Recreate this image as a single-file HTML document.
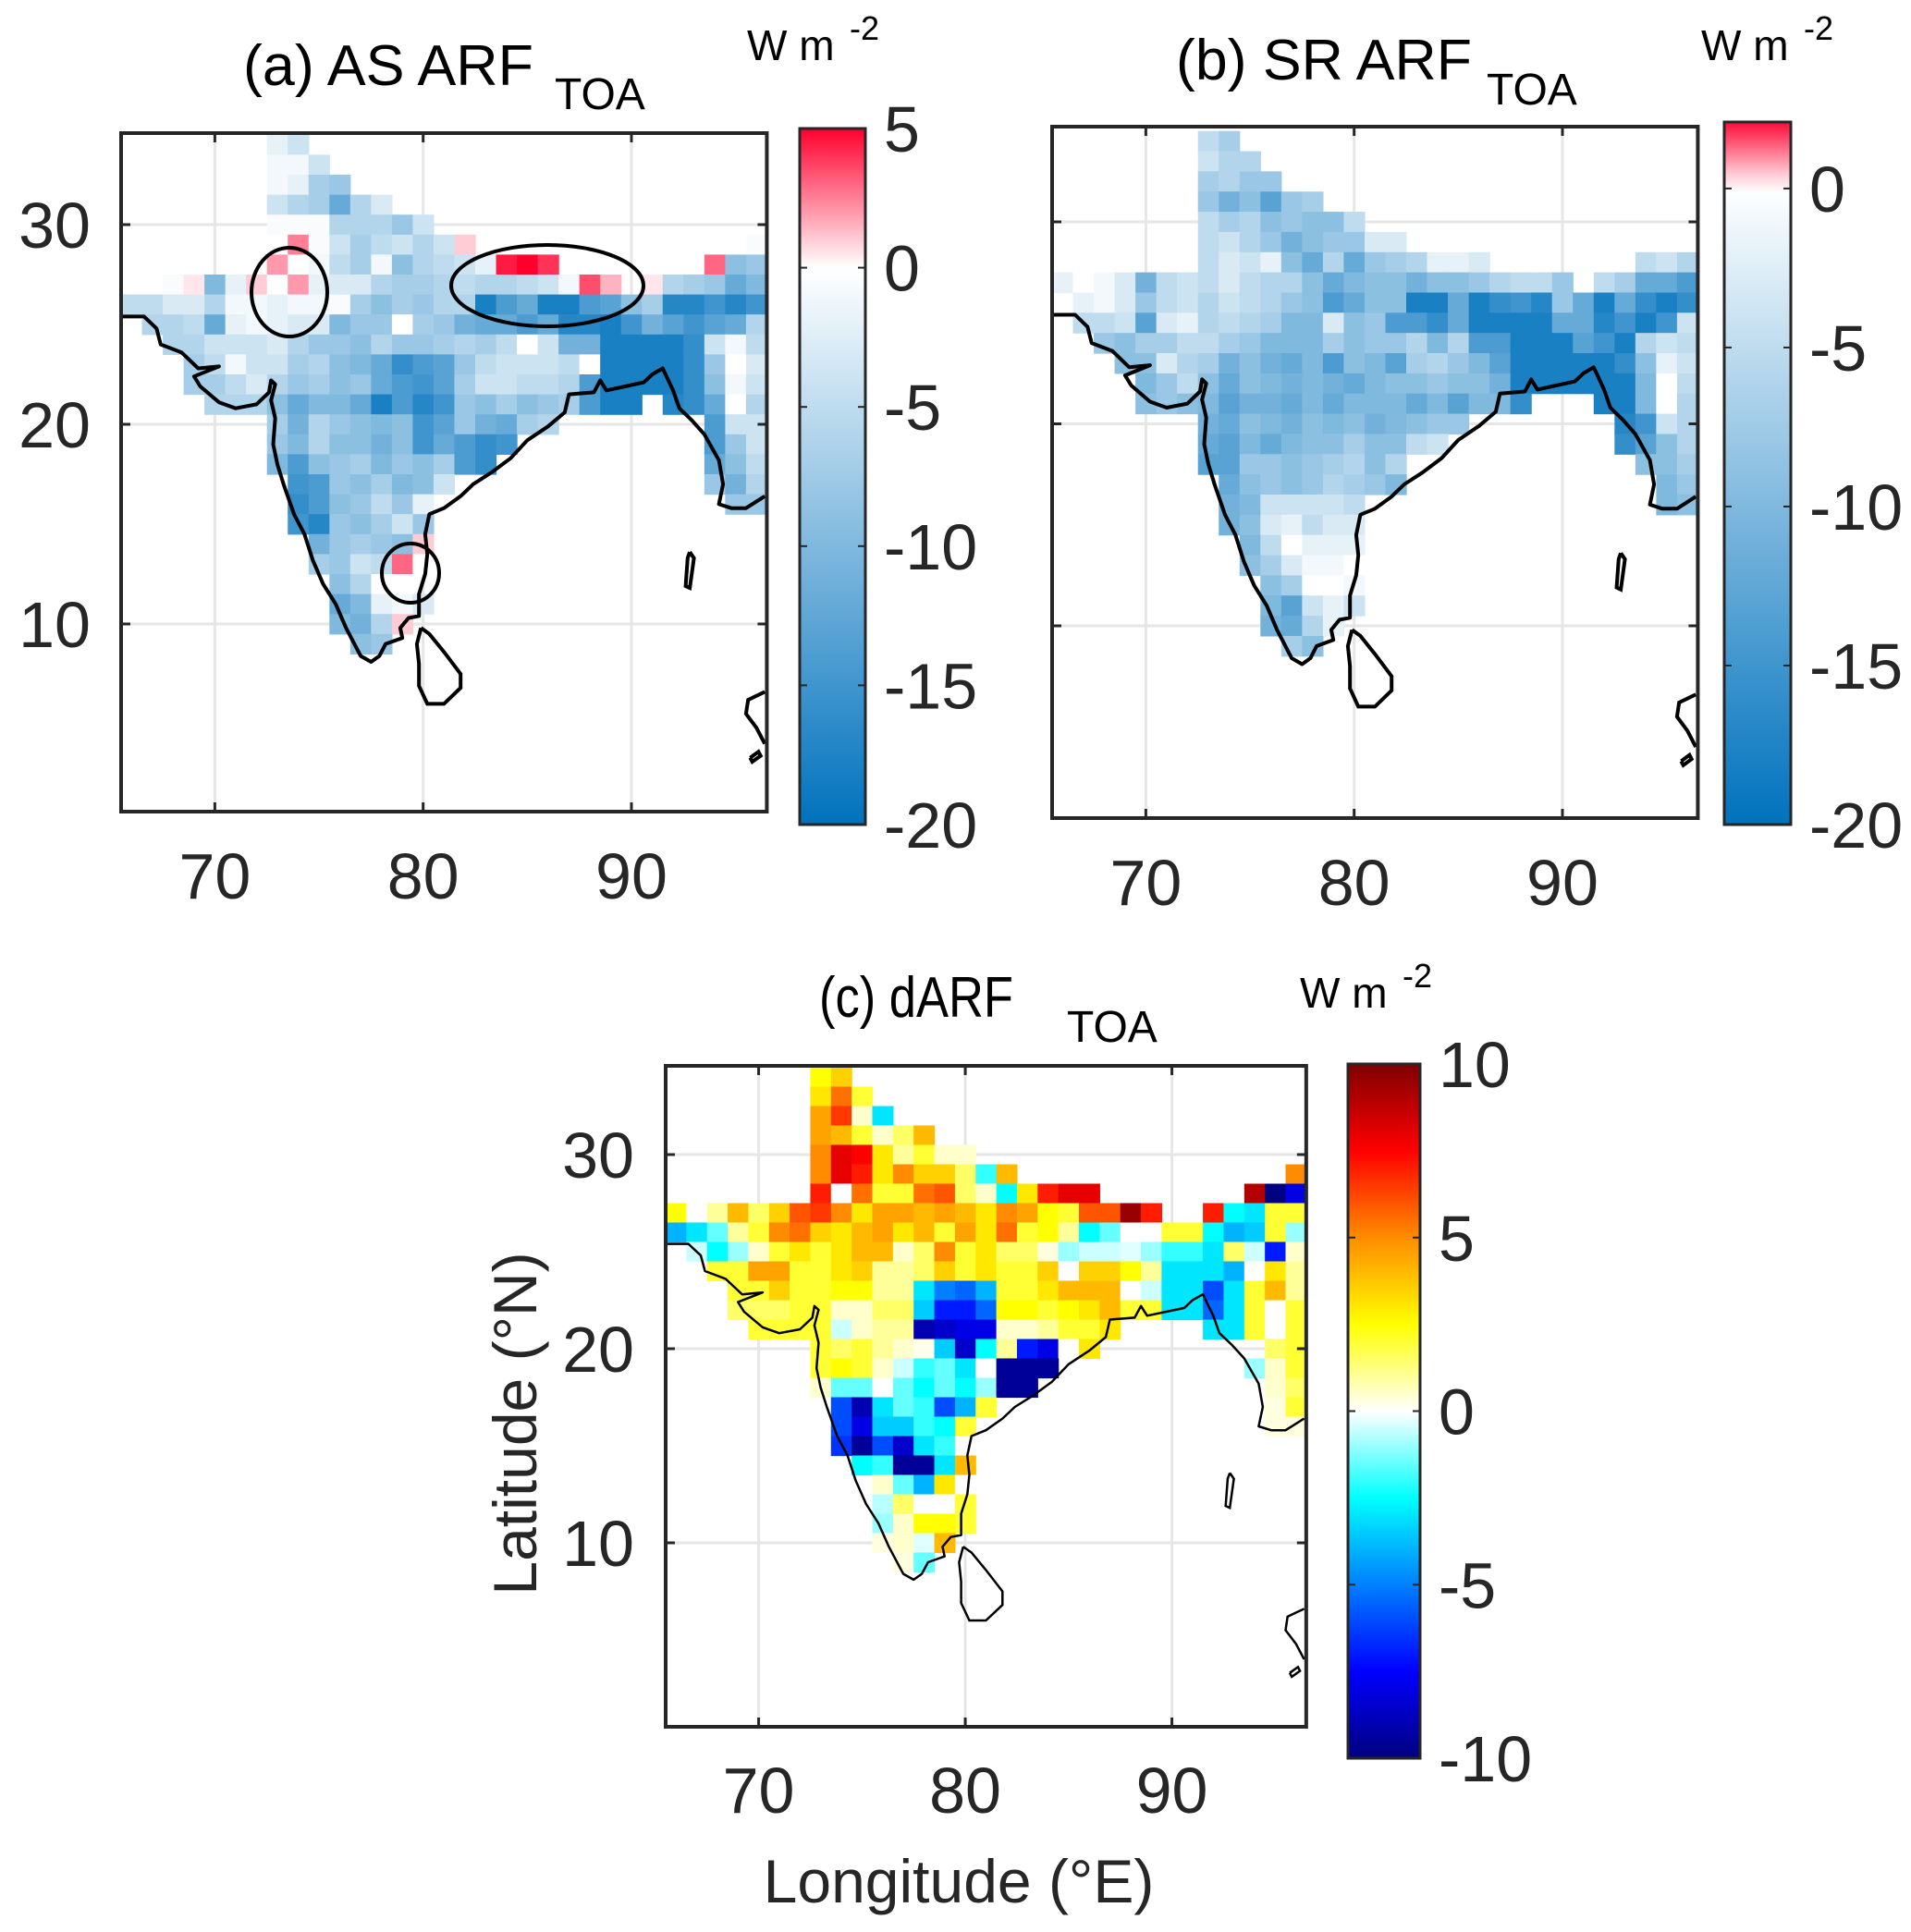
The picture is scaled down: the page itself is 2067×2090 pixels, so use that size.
<!DOCTYPE html>
<html><head><meta charset="utf-8"><style>
html,body{margin:0;padding:0;background:#fff;}
svg{display:block;font-family:"Liberation Sans",Arial,sans-serif;}
</style></head><body>
<svg id="fig" width="2067" height="2090" viewBox="0 0 2067 2090" xmlns="http://www.w3.org/2000/svg"></svg>
<script>
// ===== DATA (sparse rows: "startCol:v,v,...;startCol:v,..."; col 0 = 66E, row 0 = 34N) =====
const gridA = [
"7:-2,-4","7:-1,-1,-4","7:-1,-2,-7,-8","7:-4,-6,-7,-12,-6,-3",
"7:-0.5,-0.5,-0.5,-6,-6,-6,-8,-4",
"7:0,2.5,-0.5,-4,-7,-5,-4,-6,-4,1;30:-0.5",
"7:2,0,-1,-5,-7,-1,-9,-6,-5,-4,-2,4.5,5,4;28:3,-9,-8",
"2:-0.5,0.5,-10,-2,1,0,2,-2,-3,-3,-6,-7,-7,-6,-5,-6,-6,-5,-4,-1,3.5,1.5;25:0.5,-6,-7,-8,-12,-10",
"0:-5,-5,-3,-3,-6,-1,-1,-2,-1,-1,-0.5,-7,-9,-7,-8,-6,-6,-18,-14,-12,-18,-18,-14,-13,-9,-7,-17,-17,-15,-17,-15",
"1:-6,-6,-5,-12,-2,-1,-2,-3,-3,-10,-8,-8,0,-7,-8,-11,-12,-12,-14,-12,-17,-17,-18,-15,-11,-13,-15,-13,-12,-6",
"2:-6,-6,-4,-4,-4,-3,-6,-8,-8,-9,-6,-8,-8,-7,-6,-7,-5,0,-4,-11,-11,-18,-18,-18,-18,-16,-4,-1,-5",
"3:-7,-5,-1,-4,-4,-7,-6,-9,-10,-12,-16,-14,-13,-8,-5,-4,-4,-4,-5,0,-18,-18,-18,-18,-16,-8,0,-3",
"3:-7,-7,-5,-3,-6,-8,-7,-9,-8,-12,-14,-15,-13,-7,-4,-4,-5,-5,-6,-14,-18,-18,-18,-18,-16,-9,-1,-4",
"4:-6,-6,-6,-9,-12,-10,-10,-12,-18,-14,-17,-15,-8,-9,-7,-9,-8,-7;22:-14,-18,-18;26:-17,-16,-12,0,-6",
"7:-7,-11,-6,-8,-9,-10,-9,-15,-13,-8,-11,-12,-7,-6;28:-14,-4,-4",
"7:-8,-10,-6,-9,-9,-11,-9,-15,-12,-14,-16,-15;28:-14,-8,-4",
"7:-10,-14,-9,-8,-7,-10,-8,-9,-7,-14,-16;28:-12,-9,-5",
"8:-15,-14,-8,-9,-7,-10,-9,-4;28:-8,-11,-6",
"8:-16,-14,-9,-8,-5,-8,-2;29:-8,-8",
"8:-15,-17,-8,-9,-7,-4,-8",
"9:-11,-8,-7,-8,-9,1","9:-7,-8,-4,-5,3,0","10:-9,-6,0,0","10:-12,-10,-2,-1,-3","10:-10,-11,-6,1","11:-9,-8"
];
const gridB = [
"7:-5,-7","7:-4,-6,-6","7:-7,-6,-8,-8","7:-8,-11,-9,-13,-8,-7",
"7:-5,-7,-6,-9,-8,-9,-9,-5",
"7:-5,-4,-6,-8,-11,-9,-8,-8,-3,-3",
"7:-5,-3,-4,-2,-9,-12,-6,-12,-8,-7,-6,-2,-2,-3;28:-5,-4,-6",
"0:-2,0,-1,-3,-11,-5,-4,-5,-3,-5,-6,-6,-9,-12,-10,-9,-9,-11,-9,-9,-8,-6,-5,-5,-8;26:-5,-7,-12,-12,-14",
"1:-2,-1,-3,-8,-5,-4,-6,-4,-5,-6,-8,-9,-14,-12,-9,-9,-18,-18,-12,-18,-16,-15,-17,-8,-12,-18,-12,-16,-18,-16",
"1:-5,-5,-4,-13,-3,-2,-6,-5,-6,-7,-10,-10,-3,-9,-8,-14,-14,-16,-12,-18,-18,-18,-18,-12,-12,-17,-15,-18,-15,-4",
"2:-8,-9,-7,-7,-5,-5,-7,-8,-10,-10,-10,-7,-9,-8,-8,-6,-10,-6,-14,-14,-18,-18,-18,-13,-15,-18,-6,-4,-5",
"3:-9,-9,-3,-6,-7,-11,-9,-11,-12,-10,-14,-9,-10,-13,-7,-6,-8,-10,-13,-18,-18,-18,-18,-18,-16,-9,-2,-4",
"4:-10,-8,-5,-9,-12,-9,-10,-11,-10,-11,-12,-10,-9,-9,-8,-9,-9,-11,-18,-18,-18,-18,-18,-18,-10,0,-5",
"4:-9,-8,-9,-10,-13,-11,-11,-12,-10,-12,-10,-10,-10,-12,-10,-13,-10,-10,-16;26:-18,-18,-10,0,-6",
"7:-11,-12,-9,-10,-11,-9,-10,-9,-11,-10,-9,-8,-8;27:-17,-15,-4,-6",
"7:-12,-13,-10,-12,-10,-9,-9,-7,-9,-9,-5,-4;27:-16,-13,-9,-6",
"7:-13,-13,-8,-8,-9,-8,-7,-6,-9,-6;28:-9,-9,-7",
"8:-12,-9,-8,-9,-8,-6,-7,-8,-10;29:-10,-8",
"8:-11,-10,-4,-4,-4,-4,-5;29:-10,-9",
"8:-11,-9,-3,-2,-5,-3,-3",
"9:-10,-5,0,-2,-2,-2","9:-9,-7,-3,-1,-1,0","10:-9,-7,0,0,-1","10:-10,-13,-4,-2,-4","10:-11,-12,-6,-2","11:-7,-9"
];
const gridC = [
"7:2.5,3.5","7:3,5.5,2","7:4.5,6.5,0.5,-3","7:4.5,4,2,0.5,1.5,4",
"7:5,8,7.5,3,1,2,0.5,0.5",
"7:5,8,7,3,5,3.5,3.5,1.5,-2,4;30:5",
"7:7,0,5.5,2,2,5.5,6,1.5,0.5,-2.5,3,7,8,8;28:9,-10,-8",
"0:2.5,0,1,4,1.5,3.5,6,6.5,5,3,4.5,4.5,4,4.5,4,3,5,4.5,2.5,2,6,6,9.5,7;26:7,-2.5,-3,2,2",
"0:-4,-3,-1.5,1,2,5,5.5,3.5,3,4,4.5,3,4,2,4.5,3,5.5,2,2.5,1,-2.5,-1.5,0,0,2,2,-2.5,-4,-3.5,2,-1",
"1:-0.5,-2.5,-1,0.5,2,3,2,3,4,4,0.5,1.5,5,2,3,1.5,1.5,0.3,-1,-0.5,-0.5,-0.3,-1,-2,-2,-3,1.5,-0.5,-7,0.5",
"2:2,2,4.5,4.5,2,2,3,3.5,1,1,1.5,3.5,2,3,2,2,3.5,0,3.5,3.5,2.5,1,-3,-3,-3,-4,0,3,1",
"3:2,2,3.5,2,2,2.5,2.5,1,1,-3,-5,-5.5,-4,2,2,3,4,4,4,0,-0.5,-3,-3,-6,-3,2,4,1",
"3:1.5,1.5,1.5,2,2,0.5,0.5,1.5,1.5,-3.5,-7,-7,-5.5,2.5,2.5,2,2.5,3,4,2,2,-3,-3,-5.5,-3,2,0,2",
"4:2,2,2,2,-0.5,0.5,1,1,-9,-8.5,-8,-8,0.5,0.5,1,2,2,3;26:-3,-3,2,0,2",
"7:2,1.5,2,1,0.5,0.2,-3.5,-8.5,-2.5,1,-7,-8,0,3;29:1.5,2",
"7:2,2.5,2,0.5,-0.5,-2,-1.5,-3,0,-9.5,-9.5,-9.5;28:-1,0.5,2",
"7:0.5,-1.5,-1.5,0,-1.5,-2.5,-1.5,-2.5,-1,-9.5,-9.5;29:0.5,1.5",
"8:-6,-9,-3,-1.5,-2,-6,-4,2;29:0.3,2",
"8:-6,-8,-3.5,-3.5,-2,-2.5,2;29:0.3,0.3",
"8:-6.5,-9.5,-6,-8.5,-3,-2,0",
"9:-2.5,-2,-9.5,-9.5,-3,4","10:0.5,-1.5,-4,3,0","10:-0.7,1.5,0,0,2","10:-1,0.5,2.5,2.5,2","10:0.3,0.5,-0.3,4","11:0.3,-1.5"
];
const lonTicks = [70, 80, 90];
const latTicks = [10, 20, 30];
const cbTicksA = [5, 0, -5, -10, -15, -20];
const cbTicksB = [0, -5, -10, -15, -20];
const cbTicksC = [10, 5, 0, -5, -10];

const NS = "http://www.w3.org/2000/svg";
const svg = document.getElementById('fig');
function el(tag, attrs, parent){ const e=document.createElementNS(NS,tag); for(const k in attrs) e.setAttribute(k,attrs[k]); (parent||svg).appendChild(e); return e; }
function parseGrid(g){ const cells=[]; g.forEach((row,r)=>{ row.split(';').forEach(seg=>{ const [s,vals]=seg.split(':'); vals.split(',').forEach((v,i)=>{ cells.push({r:r,c:+s+i,v:+v}); }); }); }); return cells; }
function lerp(a,b,t){return a.map((x,i)=>Math.round(x+(b[i]-x)*t));}
function cmapStops(stops,v){ if(v<=stops[0][0]) return stops[0][1]; for(let i=1;i<stops.length;i++){ if(v<=stops[i][0]){ const t=(v-stops[i-1][0])/(stops[i][0]-stops[i-1][0]); return lerp(stops[i-1][1],stops[i][1],t);} } return stops[stops.length-1][1]; }
const stopsA=[[-20,[0,114,189]],[0,[255,255,255]],[5,[255,0,45]]];
const stopsB=[[-20,[0,114,189]],[0,[255,255,255]],[2.1,[255,10,55]]];
const stopsC=[[-10,[0,0,128]],[-7.5,[0,0,255]],[-5,[0,128,255]],[-2.5,[0,255,255]],[0,[255,255,255]],[2.5,[255,255,0]],[5,[255,140,0]],[7.5,[255,0,0]],[10,[128,0,0]]];
const rgb=a=>`rgb(${a[0]},${a[1]},${a[2]})`;

const coast=[[65.5,25.4],[66.6,25.4],[67.2,24.8],[67.4,24.0],[68.4,23.6],[69.2,22.8],[70.2,22.9],[69.0,22.4],[69.3,21.9],[70.2,21.1],[71.0,20.8],[72.0,21.0],[72.6,21.6],[72.7,22.2],[72.9,22.0],[72.7,21.2],[72.9,20.3],[72.8,19.0],[73.0,18.0],[73.3,17.0],[73.8,15.5],[74.3,14.5],[74.7,13.2],[75.2,12.0],[75.8,11.0],[76.3,9.8],[77.0,8.4],[77.5,8.1],[77.9,8.4],[78.2,9.0],[79.0,9.3],[78.9,9.8],[79.3,10.3],[79.8,10.4],[79.8,11.5],[80.1,12.5],[80.2,13.5],[80.1,14.5],[80.3,15.5],[81.0,15.8],[81.8,16.4],[82.4,17.0],[83.3,17.6],[84.2,18.3],[85.0,19.2],[86.0,19.9],[86.8,20.6],[87.0,21.5],[88.2,21.6],[88.5,22.2],[88.8,21.7],[89.7,21.9],[90.6,22.1],[91.0,22.5],[91.5,22.8],[92.0,21.7],[92.3,20.8],[92.9,20.2],[93.5,19.5],[94.2,18.2],[94.4,17.0],[94.2,16.0],[94.8,15.8],[95.5,15.8],[96.4,16.4]];
const lanka=[[79.9,9.8],[80.3,9.5],[81.0,8.6],[81.8,7.5],[81.8,6.8],[81.0,6.0],[80.2,6.0],[79.8,6.9],[79.8,8.0],[79.7,9.0],[79.9,9.8]];
const andaman=[[92.8,13.6],[93.0,13.3],[92.8,11.8],[92.6,11.9],[92.7,13.3],[92.8,13.6]];
const myan=[[96.4,6.6],[95.6,6.2],[95.5,5.5],[96.0,4.8],[96.4,4.0]];
const isl=[[95.7,3.3],[96.1,3.6],[96.2,3.4],[95.8,3.1],[95.7,3.3]];

function panel(cfg){
  const g=el('g',{});
  const X=lon=>cfg.x0+(lon-65.5)*cfg.kx, Y=lat=>cfg.y30+(30-lat)*cfg.ky;
  const L=cfg.x0, R=X(96.5), T=cfg.top, B=cfg.bot;
  const gg=el('g',{},g);
  lonTicks.forEach(t=>el('line',{x1:X(t),x2:X(t),y1:T,y2:B,stroke:'#e6e6e6','stroke-width':3},gg));
  latTicks.forEach(t=>el('line',{x1:L,x2:R,y1:Y(t),y2:Y(t),stroke:'#e6e6e6','stroke-width':3},gg));
  const cg=el('g',{},g);
  parseGrid(cfg.data).forEach(d=>{
    const lon=66+d.c, lat=34-d.r;
    const rc=el('rect',{x:X(lon-0.5),y:Y(lat+0.5),width:X(lon+0.5)-X(lon-0.5)+0.6,height:Y(lat-0.5)-Y(lat+0.5)+0.6,fill:rgb(cmapStops(cfg.stops,d.v))},cg);
    
    
  });
  const pts=a=>a.map(p=>X(p[0]).toFixed(1)+','+Y(p[1]).toFixed(1)).join(' ');
  const cw=cfg.cw;
  el('polyline',{points:pts(coast),fill:'none',stroke:'#000','stroke-width':cw,'stroke-linejoin':'round',},g);
  el('polyline',{points:pts(lanka),fill:'none',stroke:'#000','stroke-width':cw,},g);
  el('polyline',{points:pts(andaman),fill:'none',stroke:'#000','stroke-width':cw,},g);
  el('polyline',{points:pts(myan),fill:'none',stroke:'#000','stroke-width':cw,},g);
  el('polyline',{points:pts(isl),fill:'none',stroke:'#000','stroke-width':cw,},g);
  el('rect',{x:L,y:T,width:R-L,height:B-T,fill:'none',stroke:'#262626','stroke-width':4,},g);
  lonTicks.forEach(t=>{ el('line',{x1:X(t),x2:X(t),y1:B,y2:B-10,stroke:'#262626','stroke-width':3},g); el('line',{x1:X(t),x2:X(t),y1:T,y2:T+10,stroke:'#262626','stroke-width':3},g);
    const tx=el('text',{x:X(t),y:cfg.xlabY,'text-anchor':'middle','font-size':70,fill:'#262626'},g); tx.textContent=t;
      });
  latTicks.forEach(t=>{ el('line',{x1:L,x2:L+10,y1:Y(t),y2:Y(t),stroke:'#262626','stroke-width':3},g); el('line',{x1:R,x2:R-10,y1:Y(t),y2:Y(t),stroke:'#262626','stroke-width':3},g);
    if(cfg.ylab){ const tx=el('text',{x:cfg.ylabX,y:Y(t)+25,'text-anchor':'end','font-size':70,fill:'#262626'},g); tx.textContent=t;
      } });
  const cb=cfg.cb; const gid='grad'+cfg.name;
  const defs=el('defs',{},g); const lg=el('linearGradient',{id:gid,x1:0,y1:0,x2:0,y2:1},defs);
  for(let i=0;i<=40;i++){ const v=cb.vmax-(cb.vmax-cb.vmin)*i/40; el('stop',{offset:i/40,'stop-color':rgb(cmapStops(cfg.stops,v))},lg); }
  el('rect',{x:cb.x,y:cb.y0,width:cb.w,height:cb.y1-cb.y0,fill:`url(#${gid})`,stroke:'#262626','stroke-width':3,},g);
  const CY=v=>cb.y0+(cb.vmax-v)/(cb.vmax-cb.vmin)*(cb.y1-cb.y0);
  cb.ticks.forEach(t=>{ el('line',{x1:cb.x,x2:cb.x+8,y1:CY(t),y2:CY(t),stroke:'#262626','stroke-width':2},g); el('line',{x1:cb.x+cb.w,x2:cb.x+cb.w-8,y1:CY(t),y2:CY(t),stroke:'#262626','stroke-width':2},g);
    const tx=el('text',{x:cb.x+cb.w+20,y:CY(t)+25,'font-size':70,fill:'#262626'},g); tx.textContent=t;
      });
  const t1=el('text',{x:cfg.tx,y:cfg.ty,'font-size':62,fill:'#000',textLength:cfg.tlen,lengthAdjust:'spacingAndGlyphs',},g); t1.textContent=cfg.title;
  const t2=el('text',{x:cfg.sx,y:cfg.sy,'font-size':48,fill:'#000',},g); t2.textContent='TOA';
  const u=el('text',{x:cfg.ux,y:cfg.uy,'font-size':46,fill:'#000',},g); u.textContent='W m';
  const u2=el('text',{x:cfg.ux+111,y:cfg.uy-22,'font-size':36,fill:'#000',},g); u2.textContent='-2';
  return {g,X,Y};
}

const pa=panel({name:'panel-a',data:gridA,stops:stopsA,x0:131,kx:22.53,y30:243,ky:21.6,top:144,bot:878,xlabY:972,ylab:true,ylabX:98,cw:4,
  cb:{x:865,w:71,y0:139,y1:892,vmax:5,vmin:-20,ticks:cbTicksA},title:'(a) AS ARF',tx:263,ty:92,tlen:314,sx:600,sy:118,ux:808,uy:65});
const pb=panel({name:'panel-b',data:gridB,stops:stopsB,x0:1138,kx:22.53,y30:240,ky:21.85,top:137,bot:885,xlabY:979,ylab:false,cw:4,
  cb:{x:1865,w:72,y0:132,y1:892,vmax:2.09,vmin:-20,ticks:cbTicksB},title:'(b) SR ARF',tx:1272,ty:86,tlen:320,sx:1608,sy:113,ux:1840,uy:65});
const pc=panel({name:'panel-c',data:gridC,stops:stopsC,x0:720,kx:22.35,y30:1249,ky:21.0,top:1153,bot:1868,xlabY:1961,ylab:true,ylabX:686,cw:2.5,
  cb:{x:1458,w:78,y0:1151,y1:1902,vmax:10,vmin:-10,ticks:cbTicksC},title:'(c) dARF',tx:886,ty:1100,tlen:210,sx:1154,sy:1127,ux:1406,uy:1090});

[[313,316,41,48],[592,309,104,44],[444,620,31,32]].forEach(e=>{
  const el2=el('ellipse',{cx:e[0],cy:e[1],rx:e[2],ry:e[3],fill:'none',stroke:'#000','stroke-width':4});
  
  
});
const xl=el('text',{x:1037,y:2058,'text-anchor':'middle','font-size':66,fill:'#262626',}); xl.textContent='Longitude (°E)';
const yl=el('text',{x:0,y:0,'text-anchor':'middle','font-size':66,fill:'#262626',transform:'translate(580,1540) rotate(-90)',}); yl.textContent='Latitude (°N)';
</script>
</body></html>
